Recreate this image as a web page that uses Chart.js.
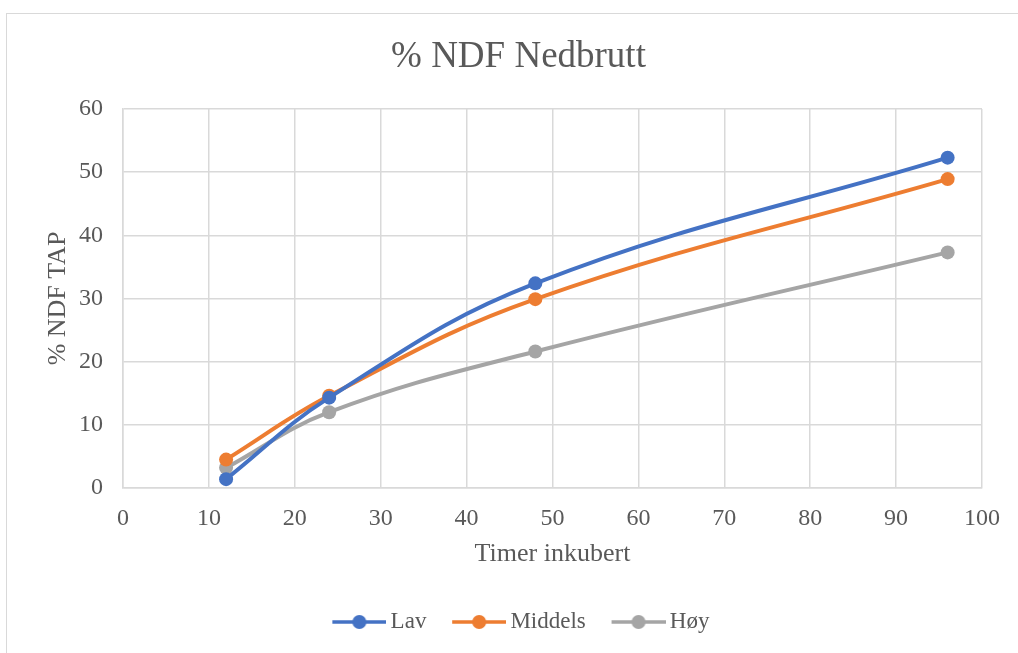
<!DOCTYPE html>
<html>
<head>
<meta charset="utf-8">
<script src="https://cdn.jsdelivr.net/npm/chart.js@4/dist/chart.umd.min.js"></script>
<style>
  html, body { margin: 0; padding: 0; background: #fff; overflow: hidden; }
  #frame { position: absolute; left: 6px; top: 13px; width: 1100px; height: 700px; border: 1px solid #d9d9d9; }
  #chart { position: absolute; left: 0; top: 0; }
</style>
</head>
<body>
<div id="frame"></div>
<canvas id="chart" width="1018" height="653"></canvas>
<script>
const hours = [12, 24, 48, 96];
const lav = [1.4, 14.3, 32.4, 52.3];
const middels = [4.5, 14.6, 29.9, 48.9];
const hoy = [3.2, 12.0, 21.6, 37.3];
const seriesNames = ["Lav", "Middels", "Høy"];
const seriesColors = ["#4472c4", "#ed7d31", "#a5a5a5"];

const textColor = "#595959";
const gridColor = "#d9d9d9";
const serif = "'Liberation Serif', 'Times New Roman', serif";

const toPoints = (ys) => hours.map((h, i) => ({ x: h, y: ys[i] }));

// line-with-dot marker for the legend; the left part stays empty so
// the marker sits close to its label like in the Excel legend
function legendMarker(color) {
  const c = document.createElement("canvas");
  c.width = 66;
  c.height = 16;
  const g = c.getContext("2d");
  g.strokeStyle = color;
  g.lineWidth = 3.5;
  g.beginPath();
  g.moveTo(12, 8);
  g.lineTo(66, 8);
  g.stroke();
  g.fillStyle = color;
  g.beginPath();
  g.arc(39, 8, 7, 0, Math.PI * 2);
  g.fill();
  return c;
}
const markers = seriesColors.map(legendMarker);

const datasets = [lav, middels, hoy].map((ys, i) => ({
  label: seriesNames[i],
  data: toPoints(ys),
  borderColor: seriesColors[i],
  backgroundColor: seriesColors[i],
  borderWidth: 4,
  pointRadius: 7,
  pointHoverRadius: 7,
  pointBorderWidth: 0,
  showLine: true,
  tension: 0.4,
}));

new Chart(document.getElementById("chart"), {
  type: "scatter",
  data: { datasets },
  options: {
    responsive: false,
    animation: false,
    layout: { padding: { top: 10, left: 55, right: 36, bottom: 9.5 } },
    plugins: {
      tooltip: { enabled: false },
      title: {
        display: true,
        text: "% NDF Nedbrutt",
        color: textColor,
        font: { family: serif, size: 37, weight: "normal" },
        padding: { top: 24.8, bottom: 29.8 },
      },
      legend: {
        position: "bottom",
        labels: {
          color: textColor,
          font: { family: serif, size: 23 },
          usePointStyle: true,
          pointStyleWidth: 51.5,
          padding: 21,
          generateLabels: (chart) =>
            Chart.defaults.plugins.legend.labels.generateLabels(chart).map((it, i) => ({
              ...it,
              pointStyle: markers[i],
            })),
        },
      },
    },
    scales: {
      x: {
        type: "linear",
        min: 0,
        max: 100,
        ticks: { stepSize: 10, color: textColor, font: { family: serif, size: 24 }, padding: 16 },
        grid: { color: gridColor, lineWidth: 1.5, drawTicks: false },
        border: { color: gridColor, width: 1.5 },
        title: {
          display: true,
          text: "Timer inkubert",
          color: textColor,
          font: { family: serif, size: 26 },
          padding: { top: 0, bottom: 19.9 },
        },
        afterFit: (s) => { s.height = 101.5; },
      },
      y: {
        min: 0,
        max: 60,
        ticks: { stepSize: 10, color: textColor, font: { family: serif, size: 24 }, padding: 20 },
        grid: { color: gridColor, lineWidth: 1.5, drawTicks: false },
        border: { color: gridColor, width: 1.5 },
        title: {
          display: true,
          text: "% NDF TAP",
          color: textColor,
          font: { family: serif, size: 26 },
          padding: { top: -12.6, bottom: 0 },
        },
        afterFit: (s) => { s.width = 68; },
      },
    },
  },
});
</script>
</body>
</html>
